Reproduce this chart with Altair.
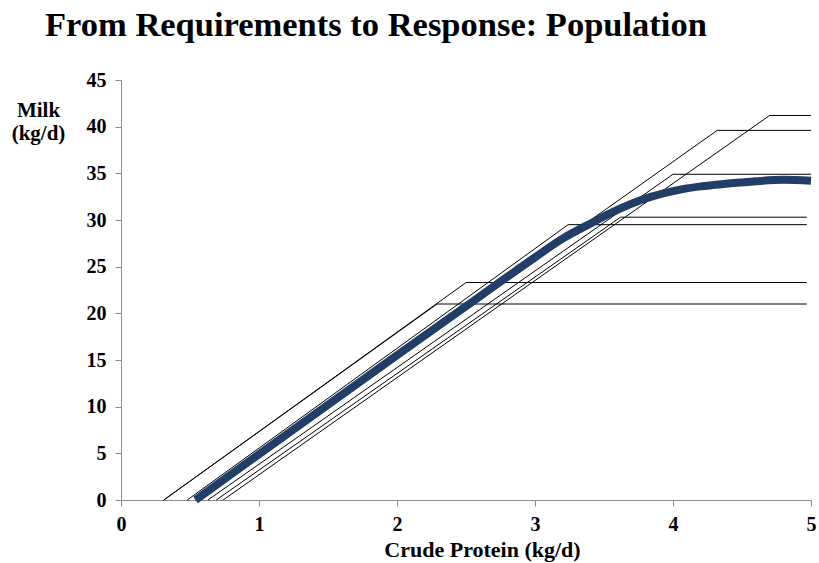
import altair as alt
import pandas as pd

# Individual cows: maintenance intercept (CP at zero milk), start of plateau, plateau height
cow_ids = ["cow1", "cow2", "cow3", "cow4", "cow5", "cow6", "cow7"]
intercept_cp = [0.31, 0.31, 0.48, 0.54, 0.63, 0.69, 0.74]
plateau_cp = [2.29, 2.50, 3.24, 4.32, 4.00, 3.62, 4.70]
plateau_milk = [21.0, 23.3, 29.5, 39.6, 34.9, 30.3, 41.2]
end_cp = [4.97, 4.97, 4.97, 5.0, 5.0, 4.97, 5.0]

# Population mean response
mean_cp = [0.54, 1.0, 2.0, 2.6, 3.0, 3.2, 3.4, 3.6, 3.8, 4.0, 4.2, 4.4, 4.6, 4.8, 5.0]
mean_milk = [0.0, 4.9, 15.5, 21.8, 26.0, 28.0, 29.6, 31.1, 32.3, 33.1, 33.6, 33.9, 34.15, 34.3, 34.2]

x_ticks = [0, 1, 2, 3, 4, 5]
y_ticks = [0, 5, 10, 15, 20, 25, 30, 35, 40, 45]

SERIF = "Liberation Serif"

rows = []
for cid, a, pc, pm, e in zip(cow_ids, intercept_cp, plateau_cp, plateau_milk, end_cp):
    rows.append({"cow": cid, "step": 0, "cp": a, "milk": 0.0})
    rows.append({"cow": cid, "step": 1, "cp": pc, "milk": pm})
    rows.append({"cow": cid, "step": 2, "cp": e, "milk": pm})
cows = pd.DataFrame(rows)
mean = pd.DataFrame({"cp": mean_cp, "milk": mean_milk})

x_scale = alt.Scale(domain=[0, 5], nice=False, zero=False)
y_scale = alt.Scale(domain=[0, 45], nice=False)

x_axis = alt.Axis(
    values=x_ticks, format="d", grid=False, labelFlush=False,
    domainColor="#8c8c8c", tickColor="#8c8c8c", tickSize=6,
    labelFont=SERIF, labelFontWeight="bold", labelFontSize=20, labelColor="black",
    labelPadding=8,
    title="Crude Protein (kg/d)", titleFont=SERIF, titleFontWeight="bold",
    titleFontSize=22, titleColor="black", titlePadding=0,
    titleX=361, titleY=49, titleAlign="center", titleBaseline="middle",
)
y_axis = alt.Axis(
    values=y_ticks, format="d", grid=False, labelFlush=False,
    domainColor="#8c8c8c", tickColor="#8c8c8c", tickSize=6,
    labelFont=SERIF, labelFontWeight="bold", labelFontSize=20, labelColor="black",
    labelPadding=9,
    title=["Milk", "(kg/d)"], titleFont=SERIF, titleFontWeight="bold",
    titleFontSize=21, titleColor="black", titleAngle=0,
    titleX=-83, titleY=30, titleAlign="center", titleBaseline="middle",
    titleLineHeight=23,
)

individual = alt.Chart(cows).mark_line(color="black", strokeWidth=1).encode(
    x=alt.X("cp:Q", scale=x_scale, axis=x_axis),
    y=alt.Y("milk:Q", scale=y_scale, axis=y_axis),
    detail="cow:N",
    order="step:Q",
)

population = alt.Chart(mean).mark_line(
    color="#213f66", strokeWidth=8, interpolate="monotone", strokeCap="butt"
).encode(
    x=alt.X("cp:Q", scale=x_scale),
    y=alt.Y("milk:Q", scale=y_scale),
)

chart = (
    alt.layer(individual, population)
    .properties(
        width=690,
        height=420,
        autosize=alt.AutoSizeParams(type="none"),
        padding={"left": 121, "top": 80, "right": 8, "bottom": 63},
        title=alt.TitleParams(
            "From Requirements to Response: Population",
            anchor="start", frame="group", dx=-76, offset=27,
            font=SERIF, fontWeight="bold", fontSize=34.5, color="black",
        ),
        background="white",
    )
    .configure_view(stroke=None)
)

chart.save("out.html", embed_options={"renderer": "svg", "actions": False})
